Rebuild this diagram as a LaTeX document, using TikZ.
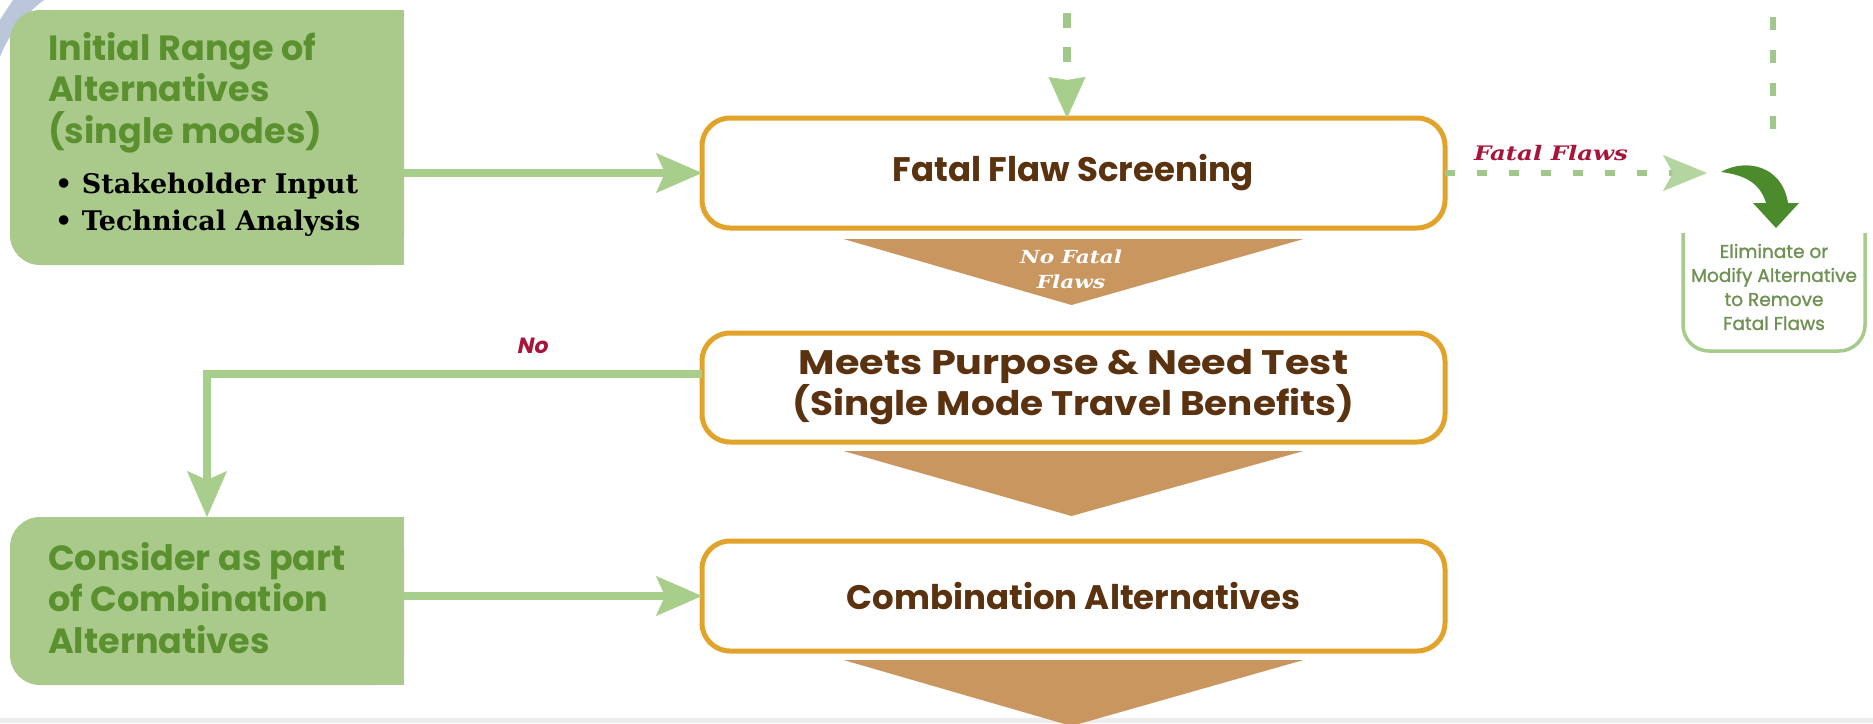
\documentclass[tikz,border=0pt]{standalone}
\usepackage{fontspec}
\usepackage{graphicx}
\setmainfont{Poppins}
\newfontfamily\slabfont{DejaVu Serif}
\newfontfamily\nofontfam{Poppins}[FakeSlant=0.2]
\newfontfamily\elimfont{Poppins}[FakeBold=1.2]
\usetikzlibrary{arrows.meta}
\definecolor{gfill}{HTML}{AACA8C}
\definecolor{gtext}{HTML}{5A912E}
\definecolor{arrgreen}{HTML}{A8CE8C}
\definecolor{dashgreen}{HTML}{9FC88A}
\definecolor{tipgreen}{HTML}{B3D59F}
\definecolor{boxor}{HTML}{E2A32B}
\definecolor{txtbrown}{HTML}{5A3210}
\definecolor{trifill}{HTML}{C99660}
\definecolor{flawred}{HTML}{A8153A}
\definecolor{bucketc}{HTML}{A6CB8C}
\definecolor{elimtxt}{HTML}{6F9152}
\definecolor{darkgreen}{HTML}{4C8B2B}
\definecolor{decoblue}{HTML}{BAC6DA}
\definecolor{botgrey}{HTML}{EDEDED}
\begin{document}
\begin{tikzpicture}[x=1pt,y=-1pt,
  gshape/.style={minimum width=394pt, inner sep=0pt, outer sep=0pt},
  gtxt/.style={anchor=base west, inner sep=0pt, align=left, text=gtext,
    font=\fontsize{35}{41.5}\selectfont\bfseries},
  bultxt/.style={anchor=base west, inner sep=0pt, align=left, text=black,
    font=\slabfont\bfseries\fontsize{27}{37}\selectfont},
  obox/.style={draw=boxor, line width=5pt, rounded corners=28pt, fill=white,
    minimum width=743pt, minimum height=110pt, inner sep=0pt, outer sep=0pt,
    align=center, text=txtbrown, font=\fontsize{34}{37}\selectfont\bfseries},
  tri/.style={fill=trifill},
  garrow/.style={draw=arrgreen, line width=8pt,
    -{Stealth[length=46pt,width=40pt,inset=9pt,line width=0.5pt]}},
  dasharrow/.style={draw=dashgreen, line width=6pt, dash pattern=on 10pt off 22pt,
    -{Stealth[length=44pt,width=36pt,inset=10pt,line width=0.5pt,color=tipgreen]}},
  topdash/.style={draw=dashgreen, line width=8pt, dash pattern=on 15pt off 19pt,
    -{Stealth[length=41pt,width=37pt,inset=3pt,line width=0.5pt,color=arrgreen]}},
  rdash/.style={draw=dashgreen, line width=6pt, dash pattern=on 13pt off 20pt},
  redlab/.style={inner sep=0pt, text=flawred},
]
\useasboundingbox (0,0) rectangle (1873,723);
\fill[white] (0,0) rectangle (1873,723);
\fill[botgrey] (0,718) rectangle (1873,723);
\fill[decoblue] (13,0) -- (44,0) .. controls (25,14) and (8,35) .. (0,57) -- (0,20) .. controls (5,12) .. (13,0) -- cycle;

% green boxes
\node[gshape, minimum height=255pt] (init) at (207,137.5) {};
\fill[gfill, rounded corners=30pt] (init.north west) rectangle (init.south east);
\fill[gfill] (init.north) rectangle (init.south east);
\node[gtxt] (initT) at (48,143) {Initial Range of\\Alternatives\\(single modes)};
\node[bultxt] (initB) at (55,230) {• Stakeholder Input\\• Technical Analysis};

\node[gshape, minimum height=168pt] (consider) at (207,601) {};
\fill[gfill, rounded corners=30pt] (consider.north west) rectangle (consider.south east);
\fill[gfill] (consider.north) rectangle (consider.south east);
\node[gtxt] (considerT) at (48,653) {Consider as part\\of Combination\\Alternatives};

% orange boxes
\node[obox] (fatal) at (1073.5,173) {Fatal Flaw Screening};
\node[obox, minimum height=109pt] (meets) at (1073.5,387.5) {\scalebox{1.17}[1]{Meets Purpose \& Need Test}\\\scalebox{1.1}[1]{(Single Mode Travel Benefits)}};
\node[obox] (comb) at (1073.5,596) {Combination Alternatives};

% triangles
\fill[tri] ([xshift=-230pt,yshift=-11pt]fatal.south) -- ([xshift=230pt,yshift=-11pt]fatal.south) -- ([xshift=-2pt,yshift=-77pt]fatal.south) -- cycle;
\fill[tri] ([xshift=-230pt,yshift=-9pt]meets.south) -- ([xshift=230pt,yshift=-9pt]meets.south) -- ([xshift=-2pt,yshift=-74pt]meets.south) -- cycle;
\fill[tri] ([xshift=-230pt,yshift=-9pt]comb.south) -- ([xshift=230pt,yshift=-9pt]comb.south) -- ([xshift=-2pt,yshift=-75pt]comb.south) -- cycle;
\node[inner sep=0pt, align=center, text=white, font=\slabfont\bfseries\itshape\fontsize{18}{25}\selectfont] (nff) at (1071,269) {\scalebox{1.2}[1]{No Fatal}\\\scalebox{1.2}[1]{Flaws}};

% connectors
\draw[garrow] (init.east |- fatal.west) -- (fatal.west);
\draw[garrow] (consider.east |- comb.west) -- (comb.west);
\draw[garrow] ([yshift=14pt]meets.west) -| (consider.north);
\node[redlab, font=\nofontfam\bfseries\fontsize{22}{24}\selectfont] (nolab) at (532,346) {No};

\coordinate (ttop) at (1067,13);
\draw[topdash] (ttop) -- ([xshift=-6.5pt]fatal.north);

\coordinate (ffend) at (1707,173);
\draw[dasharrow] (fatal.east) -- (ffend);
\node[redlab, font=\slabfont\bfseries\itshape\fontsize{20}{22}\selectfont] (ffl) at (1551,153) {\scalebox{1.22}[1]{Fatal Flaws}};

\coordinate (rtop) at (1773,-16);
\coordinate (rbot) at (1773,130);
\draw[rdash] (rtop) -- (rbot);

% eliminate bucket
\fill[darkgreen] (1721,172) .. controls (1745,158) and (1782,165) .. (1788,203) -- (1799,203) -- (1776,228) -- (1753,203) -- (1766,203) .. controls (1760,183) and (1745,175) .. (1721,172) -- cycle;
\draw[bucketc, line width=3.5pt, rounded corners=26pt] (1683,233) -- (1683,351) -- (1865,351) -- (1865,233);
\node[inner sep=0pt, align=center, text=elimtxt, font=\elimfont\fontsize{18.5}{24}\selectfont] (elim) at (1774,287) {Eliminate or\\Modify Alternative\\to Remove\\Fatal Flaws};
\end{tikzpicture}
\end{document}
